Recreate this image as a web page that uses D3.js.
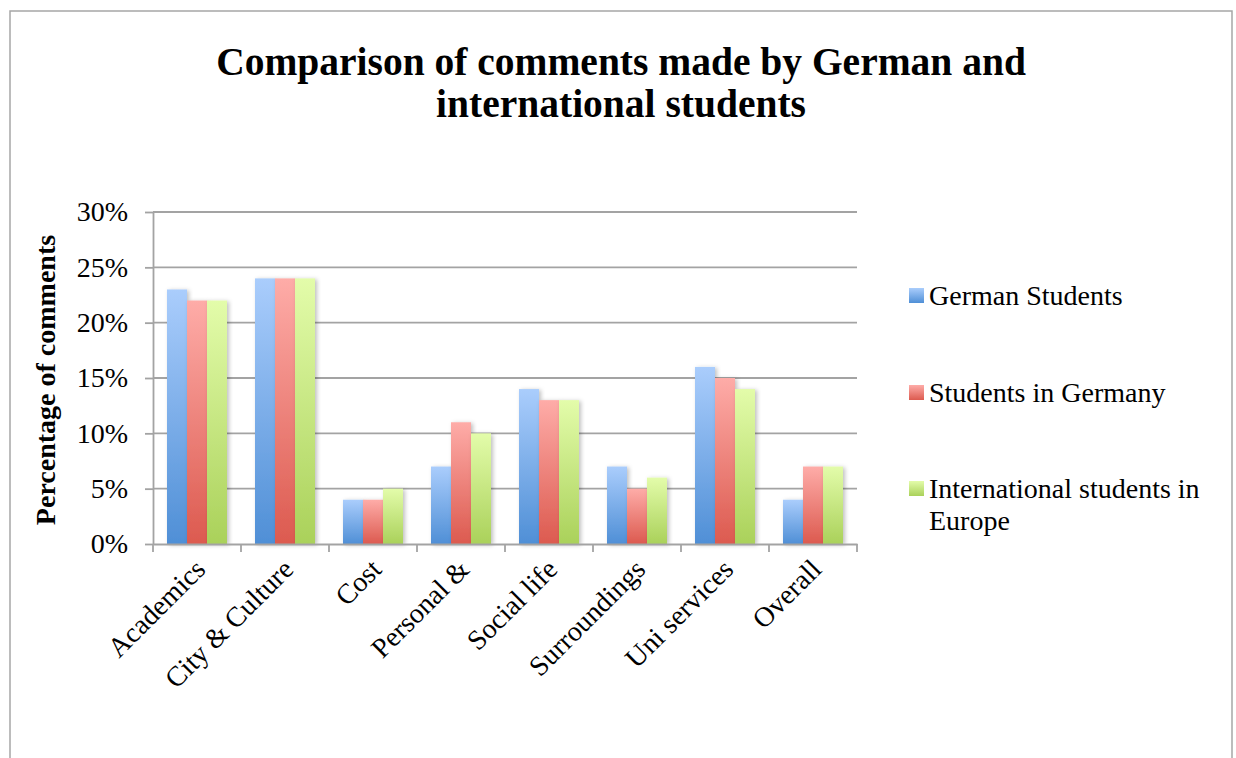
<!DOCTYPE html>
<html>
<head>
<meta charset="utf-8">
<script src="https://cdn.jsdelivr.net/npm/d3@7"></script>
<style>
  body { margin: 0; background: #fff; }
  text { font-family: "Liberation Serif", "DejaVu Serif", serif; fill: #000; }
</style>
</head>
<body>
<div id="chart"></div>
<script>
// Data
const categories = ["Academics", "City & Culture", "Cost", "Personal &", "Social life", "Surroundings", "Uni services", "Overall"];
const seriesNames = ["German Students", "Students in Germany", "International students in Europe"];
const germanStudents = [23, 24, 4, 7, 14, 7, 16, 4];
const studentsInGermany = [22, 24, 4, 11, 13, 5, 15, 7];
const internationalEurope = [22, 24, 5, 10, 13, 6, 14, 7];
const yTicks = [0, 5, 10, 15, 20, 25, 30];

const seriesValues = [germanStudents, studentsInGermany, internationalEurope];
const colors = [
  { top: "#aacdfc", bottom: "#4f8fd6" },
  { top: "#feaca8", bottom: "#dc5a4f" },
  { top: "#e3fcaa", bottom: "#aad15a" }
];

const W = 1236, H = 758;
const margin = { top: 212, right: 379, bottom: 214, left: 153 },
  width = W - margin.left - margin.right,
  height = H - margin.top - margin.bottom;

const root = d3.select("#chart").append("svg")
  .attr("width", W)
  .attr("height", H);

// gradients + shadow
const defs = root.append("defs");
colors.forEach((c, i) => {
  const g = defs.append("linearGradient")
    .attr("id", "grad" + i)
    .attr("x1", 0).attr("y1", 0).attr("x2", 0).attr("y2", 1);
  g.append("stop").attr("offset", "0%").attr("stop-color", c.top);
  g.append("stop").attr("offset", "100%").attr("stop-color", c.bottom);
});
const shadow = defs.append("filter").attr("id", "shadow")
  .attr("x", "-20%").attr("y", "-10%").attr("width", "150%").attr("height", "130%");
shadow.append("feDropShadow")
  .attr("dx", 2).attr("dy", 1).attr("stdDeviation", 2)
  .attr("flood-color", "#000").attr("flood-opacity", 0.25);

// chart frame
root.append("path")
  .attr("d", `M10,${H + 5} L10,11 L1232,11 L1232,${H + 5}`)
  .attr("fill", "none")
  .attr("stroke", "#a6a6a6")
  .attr("stroke-width", 1.5);

// title
const title = root.append("text")
  .attr("text-anchor", "middle")
  .style("font-weight", "bold")
  .style("font-size", "39.5px");
title.append("tspan").attr("x", 621).attr("y", 75).text("Comparison of comments made by German and");
title.append("tspan").attr("x", 621).attr("y", 117).text("international students");

const svg = root.append("g")
  .attr("transform", `translate(${margin.left},${margin.top})`);

// scales
const x0 = d3.scaleBand().domain(categories).range([0, width]).paddingInner(0).paddingOuter(0);
const x1 = d3.scaleBand().domain(d3.range(seriesNames.length))
  .range([14, x0.bandwidth() - 14]).padding(0);
const y = d3.scaleLinear().domain([0, 30]).range([height, 0]);

// gridlines
svg.append("g")
  .selectAll("line")
  .data(yTicks.slice(1))
  .enter().append("line")
  .attr("x1", 0).attr("x2", width)
  .attr("y1", d => y(d)).attr("y2", d => y(d))
  .attr("stroke", "#a3a3a3")
  .attr("stroke-width", 1.8);

// bars
const groups = svg.append("g").selectAll("g")
  .data(categories)
  .enter().append("g")
  .attr("transform", d => `translate(${x0(d)},0)`);

groups.selectAll("rect")
  .data((d, ci) => seriesValues.map((vals, si) => ({ si, v: vals[ci] })))
  .enter().append("rect")
  .attr("x", d => x1(d.si))
  .attr("width", x1.bandwidth())
  .attr("y", d => y(d.v))
  .attr("height", d => height - y(d.v))
  .attr("fill", d => `url(#grad${d.si})`)
  .attr("filter", "url(#shadow)");

// y axis
const yAxis = svg.append("g")
  .call(d3.axisLeft(y).tickValues(yTicks).tickFormat(d => d + "%").tickSize(8).tickSizeOuter(0));
yAxis.select(".domain").attr("stroke", "#a3a3a3").attr("stroke-width", 1.8);
yAxis.selectAll(".tick line").attr("stroke", "#a3a3a3").attr("stroke-width", 1.8);
yAxis.selectAll(".tick text")
  .attr("x", -25)
  .style("font-family", "Liberation Serif, serif")
  .style("font-size", "28px");

// x axis
const xAxis = svg.append("g")
  .attr("transform", `translate(0,${height})`)
  .call(d3.axisBottom(x0).tickSize(0).tickSizeOuter(0));
xAxis.select(".domain").attr("stroke", "#a3a3a3").attr("stroke-width", 1.8);
xAxis.selectAll(".tick text")
  .style("font-family", "Liberation Serif, serif")
  .style("font-size", "28px")
  .attr("text-anchor", "end")
  .attr("dy", null)
  .attr("y", 0)
  .attr("transform", "translate(10,27) rotate(-45)");

// category boundary ticks
svg.append("g")
  .selectAll("line")
  .data(d3.range(categories.length + 1))
  .enter().append("line")
  .attr("x1", d => d * x0.bandwidth()).attr("x2", d => d * x0.bandwidth())
  .attr("y1", height).attr("y2", height + 8)
  .attr("stroke", "#a3a3a3")
  .attr("stroke-width", 1.8);

// y axis title
root.append("text")
  .attr("transform", `translate(55,${margin.top + height / 2 + 2}) rotate(-90)`)
  .attr("text-anchor", "middle")
  .style("font-weight", "bold")
  .style("font-size", "28px")
  .text("Percentage of comments");

// legend
const legendRows = [
  { lines: ["German Students"], y: 305 },
  { lines: ["Students in Germany"], y: 402 },
  { lines: ["International students in", "Europe"], y: 498 }
];
const legend = root.append("g");
legendRows.forEach((r, i) => {
  legend.append("rect")
    .attr("x", 909).attr("y", r.y - 17)
    .attr("width", 15).attr("height", 15)
    .attr("fill", `url(#grad${i})`);
  const t = legend.append("text").style("font-size", "28px");
  r.lines.forEach((ln, j) => {
    t.append("tspan").attr("x", 929).attr("y", r.y + j * 32).text(ln);
  });
});
</script>
</body>
</html>
